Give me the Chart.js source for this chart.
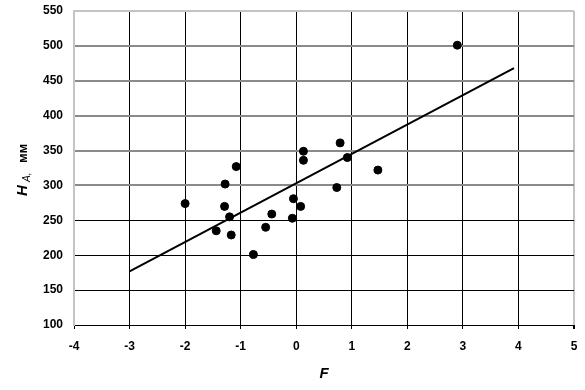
<!DOCTYPE html>
<html>
<head>
<meta charset="utf-8">
<script src="https://cdn.jsdelivr.net/npm/chart.js@4.4.1/dist/chart.umd.min.js"></script>
<style>
  html, body { margin: 0; padding: 0; background: #fff; }
  #wrap { width: 585px; height: 390px; position: relative; }
</style>
</head>
<body>
<div id="wrap"><canvas id="c"></canvas></div>
<script>
// Data
const fValues = [-2.0, -1.28, -1.08, -1.29, -1.2, -1.44, -1.17, -0.77, -0.55, -0.44, -0.07, -0.05, 0.08, 0.13, 0.13, 0.79, 0.92, 0.73, 1.47, 2.9];
const hValues = [274, 302, 327, 270, 255, 235, 229, 201, 240, 259, 253, 281, 270, 349, 336, 361, 340, 297, 322, 501];
const trendF = [-3, 3.92];
const trendH = [177, 468];
const xTickLabels = ['-4', '-3', '-2', '-1', '0', '1', '2', '3', '4', '5'];
const yTickLabels = ['100', '150', '200', '250', '300', '350', '400', '450', '500', '550'];

const FONT = '"Liberation Sans", Arial, sans-serif';

const titlePlugin = {
  id: 'axisTitles',
  afterDraw(chart) {
    const ctx = chart.ctx;
    const ca = chart.chartArea;
    ctx.save();
    ctx.fillStyle = '#000';
    ctx.font = 'italic bold 15px ' + FONT;
    ctx.textAlign = 'center';
    ctx.textBaseline = 'middle';
    ctx.fillText('F', (ca.left + ca.right) / 2, 374);
    ctx.translate(27, 171);
    ctx.rotate(-Math.PI / 2);
    ctx.textAlign = 'left';
    ctx.textBaseline = 'alphabetic';
    ctx.font = 'italic bold 15px ' + FONT;
    ctx.fillText('H', -25, 0);
    ctx.font = 'italic 10px ' + FONT;
    ctx.fillText('A,', -11, 3);
    ctx.font = 'bold 13px ' + FONT;
    ctx.fillText('мм', 8, 0);
    ctx.restore();
  }
};

new Chart(document.getElementById('c'), {
  type: 'scatter',
  data: {
    datasets: [
      {
        type: 'scatter',
        data: fValues.map((f, i) => ({ x: f, y: hValues[i] })),
        backgroundColor: '#000',
        borderColor: '#000',
        pointRadius: 4,
        pointHoverRadius: 4,
        order: 1
      },
      {
        type: 'line',
        data: trendF.map((f, i) => ({ x: f, y: trendH[i] })),
        borderColor: '#000',
        borderWidth: 2,
        pointRadius: 0,
        fill: false,
        order: 2
      }
    ]
  },
  options: {
    responsive: true,
    maintainAspectRatio: false,
    animation: false,
    events: [],
    layout: { padding: { top: 11, right: 11, left: 0, bottom: 0 } },
    plugins: { legend: { display: false }, tooltip: { enabled: false } },
    scales: {
      x: {
        type: 'linear',
        min: -4,
        max: 5,
        afterFit(scale) { scale.height = 65; scale.paddingLeft = 0; scale.paddingRight = 0; },
        afterBuildTicks(scale) {
          scale.ticks = xTickLabels.map(v => ({ value: Number(v) }));
        },
        ticks: {
          stepSize: 1,
          color: '#000',
          font: { family: FONT, size: 12, weight: 'bold' },
          padding: 10,
          maxRotation: 0,
          callback: (v, i) => xTickLabels[i]
        },
        grid: {
          color: ctx => (ctx.tick && (ctx.tick.value === -4 || ctx.tick.value === 5)) ? '#c4c4c4' : '#000',
          lineWidth: ctx => (ctx.tick && ctx.tick.value === 5) ? 2 : 1,
          tickColor: '#000',
          tickLength: 4,
          drawTicks: true
        },
        border: { display: true, color: '#000', width: 1 }
      },
      y: {
        type: 'linear',
        min: 100,
        max: 550,
        afterFit(scale) { scale.width = 74; scale.paddingTop = 0; scale.paddingBottom = 0; },
        afterBuildTicks(scale) {
          scale.ticks = yTickLabels.map(v => ({ value: Number(v) }));
        },
        ticks: {
          stepSize: 50,
          color: '#000',
          font: { family: FONT, size: 12, weight: 'bold' },
          padding: 11,
          callback: (v, i) => yTickLabels[i]
        },
        grid: {
          color: ctx => {
            const v = ctx.tick ? ctx.tick.value : 0;
            if (v === 550) return '#c4c4c4';
            if (v >= 300) return '#8a8a8a';
            return '#000';
          },
          lineWidth: ctx => {
            const v = ctx.tick ? ctx.tick.value : 0;
            if (v >= 300) return 2;
            return 1;
          },
          drawTicks: false
        },
        border: { display: true, color: '#c4c4c4', width: 2 }
      }
    }
  },
  plugins: [titlePlugin]
});
</script>
</body>
</html>
